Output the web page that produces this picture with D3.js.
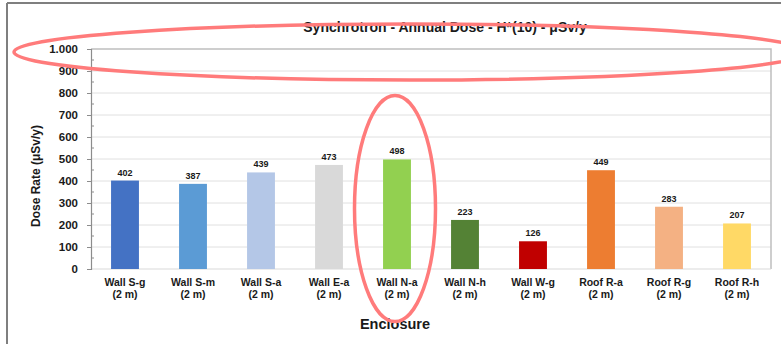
<!DOCTYPE html>
<html>
<head>
<meta charset="utf-8">
<script src="https://cdn.jsdelivr.net/npm/d3@7"></script>
<style>
  html, body { margin: 0; padding: 0; background: #fff; }
  svg { display: block; }
  text { font-family: "Liberation Sans", Arial, sans-serif; font-weight: bold; fill: #1a1a1a; }
</style>
</head>
<body>
<svg id="chart" width="781" height="344"></svg>
<script>
// Annual dose per enclosure position (µSv/y)
const categories = ["Wall S-g", "Wall S-m", "Wall S-a", "Wall E-a", "Wall N-a",
                    "Wall N-h", "Wall W-g", "Roof R-a", "Roof R-g", "Roof R-h"];
const distances = ["(2 m)", "(2 m)", "(2 m)", "(2 m)", "(2 m)",
                   "(2 m)", "(2 m)", "(2 m)", "(2 m)", "(2 m)"];
const values = [402, 387, 439, 473, 498, 223, 126, 449, 283, 207];
const barColors = ["#4472C4", "#5B9BD5", "#B4C7E7", "#D9D9D9", "#92D050",
                   "#548235", "#C00000", "#ED7D31", "#F4B183", "#FFD966"];
const yTicks = [0, 100, 200, 300, 400, 500, 600, 700, 800, 900, 1000];
const yMinorTicks = [50, 150, 250, 350, 450, 550, 650, 750, 850, 950];

const svg = d3.select("#chart");
const plot = { left: 91, right: 771, top: 49, bottom: 269 };

// Outer frame (top and left edges)
svg.append("line").attr("x1", 7).attr("x2", 781).attr("y1", 3).attr("y2", 3)
  .attr("stroke", "#7f7f7f").attr("stroke-width", 2);
svg.append("line").attr("x1", 7).attr("x2", 7).attr("y1", 3).attr("y2", 344)
  .attr("stroke", "#7f7f7f").attr("stroke-width", 2);

const x = d3.scaleBand().domain(categories)
  .range([plot.left, plot.right]).paddingInner(0.59).paddingOuter(0.295);
const y = d3.scaleLinear().domain([0, 1000]).range([plot.bottom, plot.top]);

const fmt = d3.formatLocale({ decimal: ",", thousands: ".", grouping: [3], currency: ["", ""] }).format(",");

// Gridlines
svg.append("g").selectAll("line").data(yTicks.filter(d => d > 0 && d < 1000)).join("line")
  .attr("x1", plot.left).attr("x2", plot.right)
  .attr("y1", d => y(d)).attr("y2", d => y(d))
  .attr("stroke", "#e0e0e0").attr("stroke-width", 1);

// Plot area border (top and right)
svg.append("path")
  .attr("d", `M${plot.left},${plot.top}H${plot.right}V${plot.bottom}`)
  .attr("fill", "none").attr("stroke", "#bfbfbf").attr("stroke-width", 1.5);
svg.append("line").attr("x1", plot.left).attr("x2", plot.right)
  .attr("y1", plot.bottom).attr("y2", plot.bottom)
  .attr("stroke", "#d9d9d9").attr("stroke-width", 1);

// Bars
svg.append("g").selectAll("rect").data(values).join("rect")
  .attr("x", (d, i) => x(categories[i]))
  .attr("width", x.bandwidth())
  .attr("y", d => y(d))
  .attr("height", d => y(0) - y(d))
  .attr("fill", (d, i) => barColors[i]);

// Value labels
svg.append("g").selectAll("text").data(values).join("text")
  .attr("x", (d, i) => x(categories[i]) + x.bandwidth() / 2)
  .attr("y", d => y(d) - 5)
  .attr("text-anchor", "middle")
  .attr("font-size", 9)
  .text(d => d);

// Y axis
const yAxis = svg.append("g").attr("transform", `translate(${plot.left},0)`)
  .call(d3.axisLeft(y).tickValues(yTicks).tickFormat(fmt).tickSize(4).tickPadding(9));
yAxis.select(".domain").attr("stroke", "#8c8c8c").attr("stroke-width", 1.2);
yAxis.selectAll(".tick line").attr("stroke", "#8c8c8c");
yAxis.selectAll(".tick text").attr("font-size", 11.5).attr("fill", "#1a1a1a")
  .attr("font-family", "'Liberation Sans', Arial, sans-serif").attr("font-weight", "bold");
svg.append("g").selectAll("line").data(yMinorTicks).join("line")
  .attr("x1", plot.left).attr("x2", plot.left + 3)
  .attr("y1", d => y(d)).attr("y2", d => y(d))
  .attr("stroke", "#8c8c8c");

// Category labels (two lines)
const xl = svg.append("g").selectAll("text").data(categories).join("text")
  .attr("text-anchor", "middle")
  .attr("font-size", 10.5)
  .attr("transform", d => `translate(${x(d) + x.bandwidth() / 2},0)`);
xl.append("tspan").attr("x", 0).attr("y", 286).text(d => d);
xl.append("tspan").attr("x", 0).attr("y", 298).text((d, i) => distances[i]);

// Titles
svg.append("text").attr("x", 445).attr("y", 32).attr("text-anchor", "middle")
  .attr("font-size", 14).text("Synchrotron - Annual Dose - H*(10) - μSv/y");
svg.append("text").attr("x", 395).attr("y", 329).attr("text-anchor", "middle")
  .attr("font-size", 14.5).text("Enclosure");
svg.append("text").attr("transform", "translate(40,176) rotate(-90)")
  .attr("text-anchor", "middle").attr("font-size", 12)
  .text("Dose Rate  (μSv/y)");

// Highlight rings
svg.append("ellipse").attr("cx", 410).attr("cy", 52).attr("rx", 396).attr("ry", 28)
  .attr("fill", "none").attr("stroke", "#ff7b7b").attr("stroke-width", 3.5);
svg.append("ellipse").attr("cx", 395).attr("cy", 208.5).attr("rx", 40.5).attr("ry", 113)
  .attr("fill", "none").attr("stroke", "#ff7b7b").attr("stroke-width", 3.5);
</script>
</body>
</html>
